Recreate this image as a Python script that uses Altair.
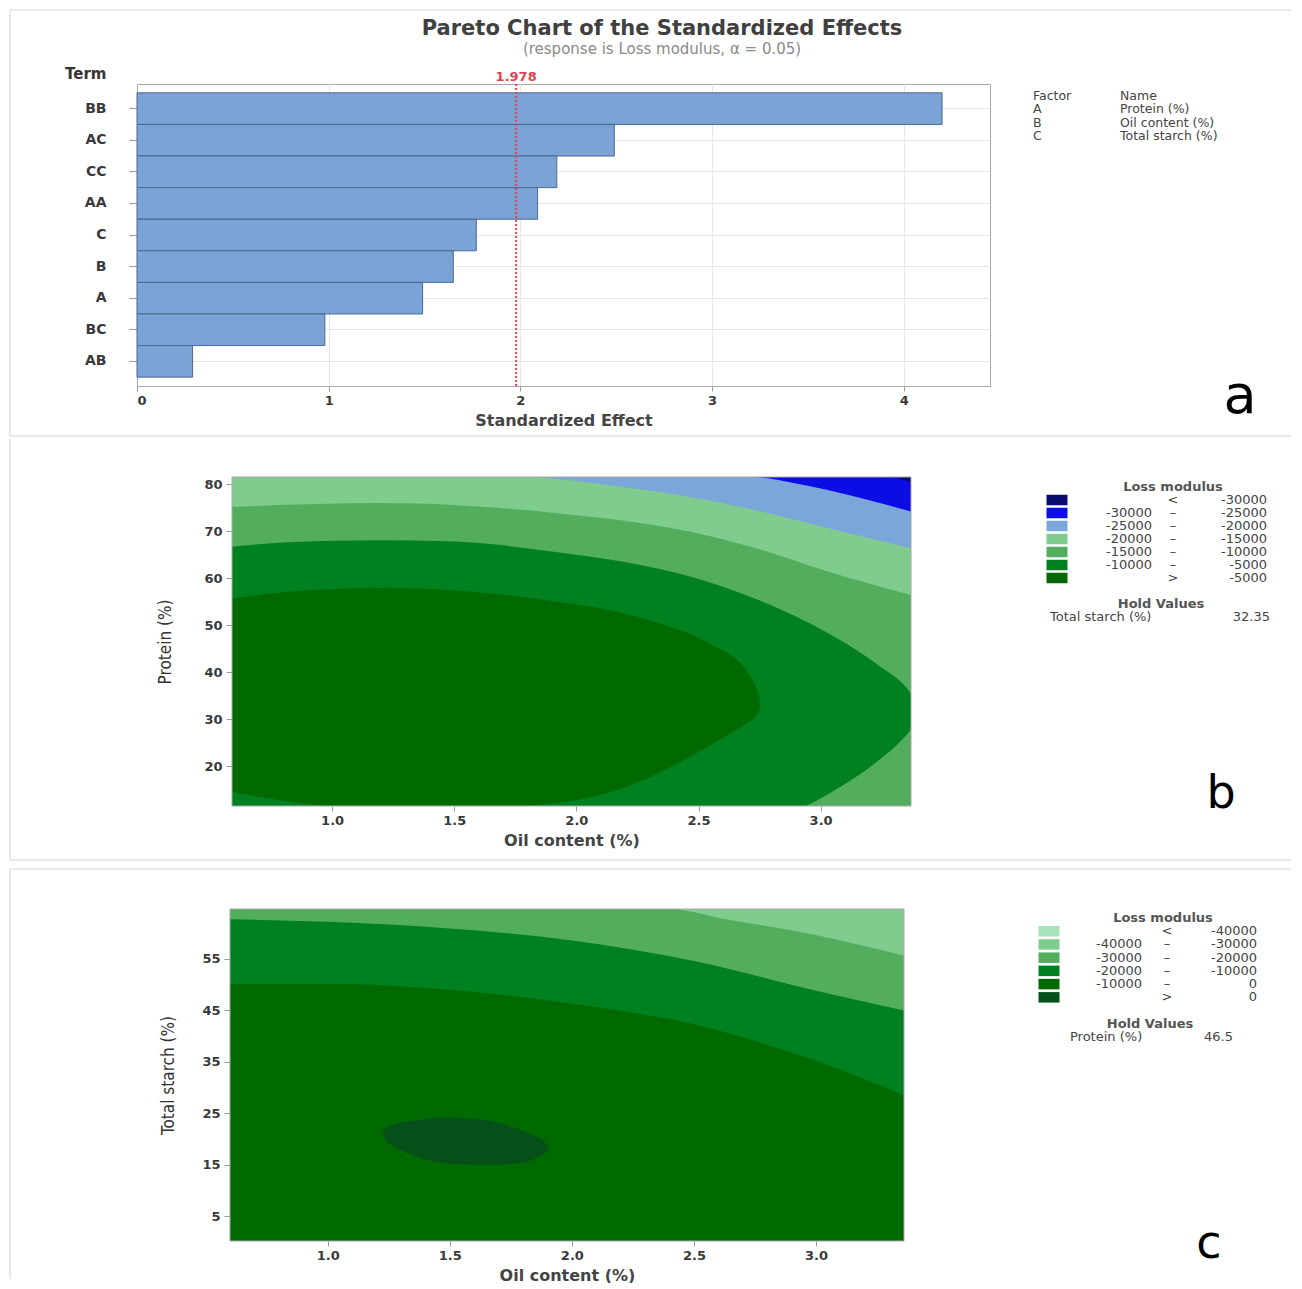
import altair as alt
import pandas as pd

FONT = "DejaVu Sans"
NARROW = "DejaVu Sans Condensed, Liberation Sans Narrow, Liberation Sans, sans-serif"

# ===================== (a) Pareto chart =====================
title_text = "Pareto Chart of the Standardized Effects"
subtitle_text = "(response is Loss modulus, α = 0.05)"
terms = ["BB", "AC", "CC", "AA", "C", "B", "A", "BC", "AB"]
effects = [4.20, 2.49, 2.19, 2.09, 1.77, 1.65, 1.49, 0.98, 0.29]
critical_value = [1.978]
effect_ticks = [0, 1, 2, 3, 4]
effect_domain = [0, 4.45]
factor_keys = ["hdr", "A", "B", "C"]
factor_col1 = ["Factor", "A", "B", "C"]
factor_col2 = ["Name", "Protein (%)", "Oil content (%)", "Total starch (%)"]

# ===================== (b) Protein vs Oil content =====================
b_x_domain = [0.59, 3.37]
b_y_domain = [11.5, 81.55]
b_x_ticks = [1.0, 1.5, 2.0, 2.5, 3.0]
b_y_ticks = [20, 30, 40, 50, 60, 70, 80]
b_leg_lo = ["", "-30000", "-25000", "-20000", "-15000", "-10000", ""]
b_leg_sym = ["<", "–", "–", "–", "–", "–", ">"]
b_leg_hi = ["-30000", "-25000", "-20000", "-15000", "-10000", "-5000", "-5000"]
b_hold = ["Total starch (%)", "32.35"]
# contour boundaries (x = oil content, y = protein)
b_m30_x = [0.59, 3.28, 3.37]
b_m30_y = [81.55, 81.55, 80.4]
b_m25_x = [0.59, 2.72, 2.884, 3.02, 3.37]
b_m25_y = [81.55, 81.55, 80.35, 78.9, 74.2]
b_m20_x = [0.59, 1.81, 1.931, 2.204, 2.476, 2.748, 3.02, 3.37]
b_m20_y = [81.55, 81.55, 81.05, 79.3, 77.2, 74.3, 70.8, 66.4]
b_m15_x = [0.59, 1.2, 1.5, 1.931, 2.204, 2.476, 2.748, 3.02, 3.37]
b_m15_y = [75.2, 76.0, 75.6, 73.8, 72.2, 69.8, 66.2, 61.6, 56.4]
b_m10_x = [0.59, 0.8, 1.2, 1.5, 1.931, 2.204, 2.476, 2.748, 2.94, 3.088, 3.225, 3.37, 3.42]
b_m10_top = [66.7, 67.6, 68.1, 67.8, 65.5, 63.4, 60.2, 55.3, 50.8, 46.6, 41.9, 35.5, 31.5]
b_m10_bot = [4.0, 3.0, 2.5, 2.5, 3.0, 4.0, 5.5, 8.0, 11.5, 15.8, 20.7, 27.8, 31.5]
b_m05_x = [0.59, 0.8, 0.965, 1.2, 1.5, 1.931, 2.135, 2.34, 2.544, 2.694, 2.722, 2.742, 2.750, 2.752]
b_m05_top = [55.65, 57.0, 57.6, 57.9, 57.4, 54.9, 53.2, 50.4, 46.1, 40.5, 38.3, 35.9, 34.2, 33.1]
b_m05_bot = [14.5, 12.6, 11.5, 10.6, 10.7, 12.25, 14.4, 18.6, 24.3, 29.0, 30.0, 31.1, 32.0, 32.3]

# ===================== (c) Total starch vs Oil content =====================
c_x_domain = [0.6, 3.36]
c_y_domain = [0.2, 64.7]
c_x_ticks = [1.0, 1.5, 2.0, 2.5, 3.0]
c_y_ticks = [5, 15, 25, 35, 45, 55]
c_leg_lo = ["", "-40000", "-30000", "-20000", "-10000", ""]
c_leg_sym = ["<", "–", "–", "–", "–", ">"]
c_leg_hi = ["-40000", "-30000", "-20000", "-10000", "0", "0"]
c_hold = ["Protein (%)", "46.5"]
c_m30_x = [0.6, 2.40, 2.631, 2.904, 3.36]
c_m30_y = [64.7, 64.7, 62.7, 60.5, 55.65]
c_m20_x = [0.6, 1.0, 1.5, 2.0, 2.5, 3.0, 3.36]
c_m20_y = [62.7, 62.2, 60.9, 58.6, 54.6, 48.8, 45.0]
c_m10_x = [0.6, 1.0, 1.5, 2.0, 2.5, 3.0, 3.36]
c_m10_y = [50.2, 50.2, 49.0, 46.3, 42.3, 35.2, 28.5]
c_p00_x = [1.226, 1.240, 1.264, 1.346, 1.483, 1.619, 1.688, 1.756, 1.816, 1.852, 1.885, 1.903]
c_p00_top = [21.5, 22.2, 22.8, 23.5, 24.2, 23.9, 23.3, 22.4, 21.3, 20.5, 19.6, 18.6]
c_p00_bot = [20.7, 19.6, 18.8, 16.9, 15.3, 15.0, 15.0, 15.2, 15.6, 16.3, 17.1, 17.8]

# ===================== styles / layout =====================
b_colors = ["#0B0B6E", "#0C0CE4", "#7BA6DA", "#80CC8F", "#52AE5C", "#00801F", "#006A00"]
c_colors = ["#A8E2BA", "#80CC8F", "#52AE5C", "#00801F", "#006A00", "#054F18"]
BAR_FILL = "#7BA3D6"
BAR_EDGE = "#4A6890"
REF_RED = "#E0434F"
TXT = "#444444"
FRAME = "#A8A8A8"
PANEL_LINE = "#E2E2E2"
RECT_SHAPE = "M-1,-0.5H1V0.5H-1Z"
B_SHIFT, B_W, B_H = 95, 679, 329
C_SHIFT, C_W, C_H = 93, 674, 332
EDGE_L, EDGE_R = -127, 1154   # panel border, relative to the plot origin of panel a


def one(**kw):
    return pd.DataFrame({k: [v] for k, v in kw.items()})


def hline(y, x1, x2):
    return alt.Chart(one(k=0)).mark_rule(color=PANEL_LINE, strokeWidth=1.5).encode(
        x=alt.value(x1), x2=alt.value(x2), y=alt.value(y))


def vline(x, y1, y2):
    return alt.Chart(one(k=0)).mark_rule(color=PANEL_LINE, strokeWidth=1.5).encode(
        x=alt.value(x), y=alt.value(y1), y2=alt.value(y2))


# ----------------------------------------------------------- panel a
a_xscale = alt.Scale(domain=effect_domain, nice=False, zero=True)
a_xaxis = alt.Axis(values=effect_ticks, format="d", title="Standardized Effect",
                   titleFontSize=16, titlePadding=5, tickSize=5, labelPadding=3,
                   grid=True, gridColor="#E6E6E6")
bars_df = pd.DataFrame({"term": terms, "effect": effects})
bars = alt.Chart(bars_df).mark_bar(
    fill=BAR_FILL, stroke=BAR_EDGE, strokeWidth=1, opacity=1
).encode(
    x=alt.X("effect:Q", scale=a_xscale, axis=a_xaxis),
    y=alt.Y("term:N", sort=terms,
            scale=alt.Scale(paddingInner=0, paddingOuter=0.28),
            axis=alt.Axis(title="Term", titleAngle=0, titleAlign="right",
                          titleBaseline="middle", titleX=-31, titleY=-11,
                          titleFontSize=15, titleColor="#333333",
                          labelFontSize=14, tickSize=8, labelPadding=23,
                          grid=True, gridColor="#E6E6E6", bandPosition=0.5)),
)
crit_df = pd.DataFrame({"v": critical_value})
ref_rule = alt.Chart(crit_df).mark_rule(
    color=REF_RED, strokeDash=[2, 2], strokeWidth=2
).encode(x=alt.X("v:Q", scale=a_xscale, axis=a_xaxis))
ref_label = alt.Chart(crit_df).mark_text(
    color=REF_RED, font=FONT, fontWeight="bold", fontSize=13, baseline="middle"
).encode(x=alt.X("v:Q", scale=a_xscale, axis=a_xaxis), y=alt.value(-7),
         text=alt.Text("v:Q", format=".3f"))
letter_a = alt.Chart(one(t="a")).mark_text(
    font=FONT, fontSize=54, color="#000000", baseline="alphabetic", align="center"
).encode(x=alt.value(1103), y=alt.value(329), text="t:N")
title_a = alt.Chart(one(t=title_text)).mark_text(
    font=FONT, fontSize=21, fontWeight="bold", color="#404040", align="center", baseline="middle"
).encode(x=alt.value(525), y=alt.value(-55), text="t:N")
subtitle_a = alt.Chart(one(t=subtitle_text)).mark_text(
    font=FONT, fontSize=15, color="#8A8A8A", align="center", baseline="middle"
).encode(x=alt.value(525), y=alt.value(-35), text="t:N")

fac_df = pd.DataFrame({"key": factor_keys, "c1": factor_col1, "c2": factor_col2})
fac_y = alt.Y("key:N", scale=alt.Scale(type="point", domain=factor_keys, range=[12, 52], padding=0),
              axis=None)
fac1 = alt.Chart(fac_df).mark_text(font=FONT, fontSize=12.5, color=TXT, align="left",
                                   baseline="middle").encode(x=alt.value(896), y=fac_y, text="c1:N")
fac2 = alt.Chart(fac_df).mark_text(font=FONT, fontSize=12.5, color=TXT, align="left",
                                   baseline="middle").encode(x=alt.value(983), y=fac_y, text="c2:N")

panel_a = alt.layer(
    alt.layer(hline(-74, EDGE_L, EDGE_R), vline(EDGE_L, -74, 352), hline(352, EDGE_L, EDGE_R),
              bars, ref_rule, ref_label, letter_a, title_a, subtitle_a),
    alt.layer(fac1, fac2),
).resolve_scale(y="independent").properties(
    width=853, height=302,
    view=alt.ViewBackground(stroke=FRAME, strokeWidth=1),
)


# ----------------------------------------------------------- contour helpers
def region_below(xs, ys, color, xsc, ysc, ymin, xaxis, yaxis, clip=True):
    df = pd.DataFrame({"x": xs, "y": ys})
    return alt.Chart(df).mark_area(color=color, clip=clip, interpolate="monotone", opacity=1).encode(
        x=alt.X("x:Q", scale=xsc, axis=xaxis),
        y=alt.Y("y:Q", scale=ysc, axis=yaxis),
        y2=alt.datum(ymin),
    )


def region_between(xs, top, bot, color, xsc, ysc, xaxis, yaxis):
    df = pd.DataFrame({"x": xs, "y": top, "y2": bot})
    return alt.Chart(df).mark_area(color=color, clip=True, interpolate="monotone", opacity=1).encode(
        x=alt.X("x:Q", scale=xsc, axis=xaxis),
        y=alt.Y("y:Q", scale=ysc, axis=yaxis),
        y2="y2:Q",
    )


def frame_box(xdom, ydom, xsc, ysc, xaxis, yaxis):
    df = pd.DataFrame({"x": xdom, "y": [ydom[1]] * 2})
    return alt.Chart(df).mark_area(fillOpacity=0, fill="#ffffff", stroke=FRAME, strokeWidth=1,
                                   interpolate="linear").encode(
        x=alt.X("x:Q", scale=xsc, axis=xaxis),
        y=alt.Y("y:Q", scale=ysc, axis=yaxis),
        y2=alt.datum(ydom[0]),
    )


def legend_block(lo, sym, hi, colors, hold, xs, yrange, dx):
    keys = [f"r{i}" for i in range(len(lo))]
    domain = ["title"] + keys + ["gap", "hold", "holdv"]
    ysc = alt.Scale(type="point", domain=domain, range=yrange, padding=0)
    rows = pd.DataFrame({"key": keys, "lo": lo, "sym": sym, "hi": hi})
    yenc = alt.Y("key:N", scale=ysc, axis=None)
    sw = alt.Chart(rows).mark_point(shape=RECT_SHAPE, size=441, filled=True, opacity=1,
                                    strokeWidth=0).encode(
        x=alt.value(xs["sw"] + dx), y=yenc,
        color=alt.Color("key:N", scale=alt.Scale(domain=keys, range=colors), legend=None))
    base = dict(font=FONT, fontSize=13, color=TXT, baseline="middle")
    t_lo = alt.Chart(rows).mark_text(align="right", **base).encode(
        x=alt.value(xs["lo"] + dx), y=yenc, text="lo:N")
    t_sym = alt.Chart(rows).mark_text(align="center", **base).encode(
        x=alt.value(xs["sym"] + dx), y=yenc, text="sym:N")
    t_hi = alt.Chart(rows).mark_text(align="right", **base).encode(
        x=alt.value(xs["hi"] + dx), y=yenc, text="hi:N")
    bold = dict(font=FONT, fontSize=13, color="#555555", baseline="middle", fontWeight="bold",
                align="center")
    t_title = alt.Chart(one(key="title", t="Loss modulus")).mark_text(**bold).encode(
        x=alt.value(xs["title"] + dx), y=yenc, text="t:N")
    t_hold = alt.Chart(one(key="hold", t="Hold Values")).mark_text(**bold).encode(
        x=alt.value(xs["hold"] + dx), y=yenc, text="t:N")
    t_hn = alt.Chart(one(key="holdv", t=hold[0])).mark_text(align="left", **base).encode(
        x=alt.value(xs["hname"] + dx), y=yenc, text="t:N")
    t_hv = alt.Chart(one(key="holdv", t=hold[1])).mark_text(align="right", **base).encode(
        x=alt.value(xs["hval"] + dx), y=yenc, text="t:N")
    return alt.layer(sw, t_lo, t_sym, t_hi, t_title, t_hold, t_hn, t_hv)


def x_axis(ticks, title):
    return alt.Axis(values=ticks, format=".1f", title=title, titleFontSize=16,
                    tickSize=5, labelPadding=3, titlePadding=5, grid=False, domain=False)


def y_axis(ticks, title, title_x, shift):
    return alt.Axis(values=ticks, title=title, titleFont=NARROW, titleFontWeight="normal",
                    titleFontSize=17, titleColor="#333333", titleX=title_x, offset=-shift,
                    tickSize=6, labelPadding=4, grid=False, domain=False)


# ----------------------------------------------------------- panel b
bxs = alt.Scale(domain=b_x_domain, range=[B_SHIFT, B_SHIFT + B_W], nice=False, zero=False)
bys = alt.Scale(domain=b_y_domain, nice=False, zero=False)
b_ymin = b_y_domain[0]
bxa = x_axis(b_x_ticks, "Oil content (%)")
bya = y_axis(b_y_ticks, "Protein (%)", -58, B_SHIFT)
b_regions = alt.layer(
    region_below(b_x_domain, [b_y_domain[1]] * 2, b_colors[0], bxs, bys, b_ymin, bxa, bya, clip=False),
    region_below(b_m30_x, b_m30_y, b_colors[1], bxs, bys, b_ymin, bxa, bya),
    region_below(b_m25_x, b_m25_y, b_colors[2], bxs, bys, b_ymin, bxa, bya),
    region_below(b_m20_x, b_m20_y, b_colors[3], bxs, bys, b_ymin, bxa, bya),
    region_below(b_m15_x, b_m15_y, b_colors[4], bxs, bys, b_ymin, bxa, bya),
    region_between(b_m10_x, b_m10_top, b_m10_bot, b_colors[5], bxs, bys, bxa, bya),
    region_between(b_m05_x, b_m05_top, b_m05_bot, b_colors[6], bxs, bys, bxa, bya),
    frame_box(b_x_domain, b_y_domain, bxs, bys, bxa, bya),
    vline(EDGE_L, -38, 383), hline(383, EDGE_L, EDGE_R),
    alt.Chart(one(t="b")).mark_text(font=FONT, fontSize=46, color="#000000",
                                     baseline="alphabetic", align="center").encode(
        x=alt.value(989 + B_SHIFT), y=alt.value(331), text="t:N"),
)
b_legend = legend_block(
    b_leg_lo, b_leg_sym, b_leg_hi, b_colors, b_hold,
    dict(sw=825, lo=920, sym=941, hi=1035, title=941, hold=929, hname=818, hval=1038),
    [10, 140], B_SHIFT,
)
panel_b = alt.layer(b_regions, b_legend).resolve_scale(
    y="independent", color="independent").properties(width=B_SHIFT + B_W, height=B_H)

# ----------------------------------------------------------- panel c
cxs = alt.Scale(domain=c_x_domain, range=[C_SHIFT, C_SHIFT + C_W], nice=False, zero=False)
cys = alt.Scale(domain=c_y_domain, nice=False, zero=False)
c_ymin = c_y_domain[0]
cxa = x_axis(c_x_ticks, "Oil content (%)")
cya = y_axis(c_y_ticks, "Total starch (%)", -53, C_SHIFT)
c_regions = alt.layer(
    region_below(c_x_domain, [c_y_domain[1]] * 2, c_colors[1], cxs, cys, c_ymin, cxa, cya, clip=False),
    region_below(c_m30_x, c_m30_y, c_colors[2], cxs, cys, c_ymin, cxa, cya),
    region_below(c_m20_x, c_m20_y, c_colors[3], cxs, cys, c_ymin, cxa, cya),
    region_below(c_m10_x, c_m10_y, c_colors[4], cxs, cys, c_ymin, cxa, cya),
    region_between(c_p00_x, c_p00_top, c_p00_bot, c_colors[5], cxs, cys, cxa, cya),
    frame_box(c_x_domain, c_y_domain, cxs, cys, cxa, cya),
    hline(-40, EDGE_L, EDGE_R), vline(EDGE_L, -40, 370),
    alt.Chart(one(t="c")).mark_text(font=FONT, fontSize=46, color="#000000",
                                     baseline="alphabetic", align="center").encode(
        x=alt.value(979 + C_SHIFT), y=alt.value(349), text="t:N"),
)
c_legend = legend_block(
    c_leg_lo, c_leg_sym, c_leg_hi, c_colors, c_hold,
    dict(sw=819, lo=912, sym=937, hi=1027, title=933, hold=920, hname=840, hval=1003),
    [9, 128], C_SHIFT,
)
panel_c = alt.layer(c_regions, c_legend).resolve_scale(
    y="independent", color="independent").properties(width=C_SHIFT + C_W, height=C_H)

chart = alt.vconcat(
    panel_a,
    alt.vconcat(panel_b, panel_c, spacing=7),
    spacing=0,
).properties(
    padding={"left": 0, "top": 0, "right": 0, "bottom": 0},
    background="white",
).configure_view(
    stroke="transparent", strokeWidth=0
).configure_axis(
    domainColor=FRAME, tickColor="#9A9A9A", labelColor="#3A3A3A",
    labelFont=FONT, labelFontSize=13, labelFontWeight="bold",
    titleFont=FONT, titleColor="#444444", titleFontWeight="bold",
)

chart.save("out.html", embed_options={"renderer": "svg", "actions": False})
